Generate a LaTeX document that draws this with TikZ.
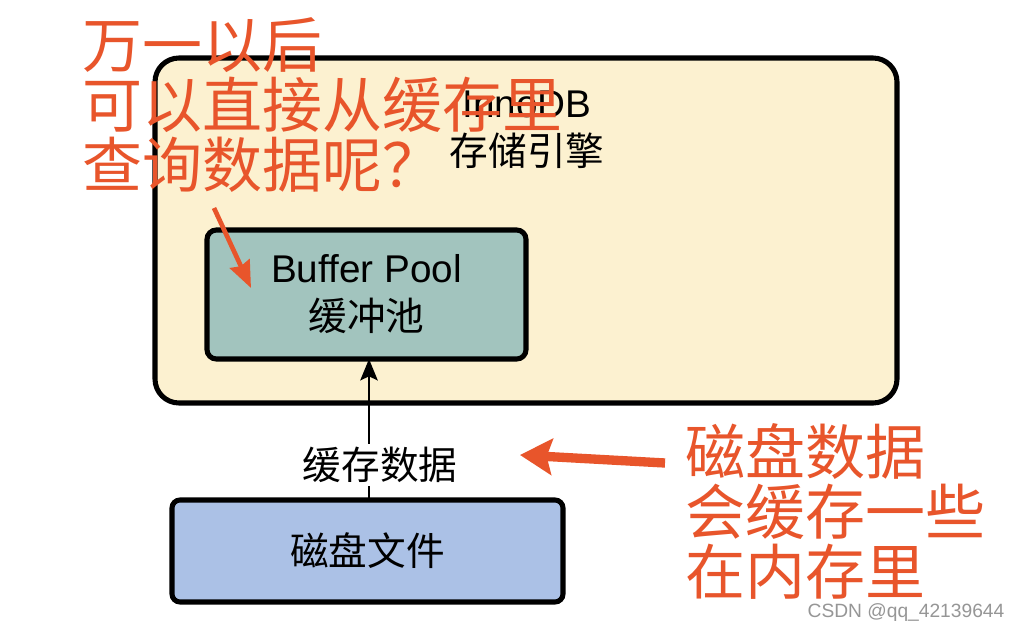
\documentclass[tikz,border=0pt]{standalone}
\usepackage{fontspec}
\setmainfont{Liberation Sans}
\newfontfamily\cjk{Noto Sans CJK SC}
\usetikzlibrary{arrows.meta}
\definecolor{engfill}{RGB}{252,241,208}
\definecolor{poolfill}{RGB}{162,196,190}
\definecolor{diskfill}{RGB}{171,193,230}
\definecolor{anno}{RGB}{232,85,43}
\definecolor{wm}{RGB}{150,150,150}
\tikzset{
  box/.style={draw=black, line width=3.8pt, inner sep=0pt},
  blk/.style={font=\fontsize{29}{36}\selectfont, align=center, inner sep=0pt},
  redtxt/.style={text=anno, font=\cjk\fontsize{45}{45}\selectfont, align=left, inner sep=0pt},
}
\begin{document}
\begin{tikzpicture}[x=0.75pt,y=-0.75pt]
\useasboundingbox[fill=white] (0,0) rectangle (1020,631);
% engine box
\node[box, fill=engfill, rounded corners=18pt, minimum width=556.5pt, minimum height=258.75pt] (engine) at (526,230.5) {};
\node[blk] (englbl) at (527,130) {InnoDB\\{\cjk 存储引擎}};
% buffer pool
\node[box, fill=poolfill, rounded corners=7pt, minimum width=239.25pt, minimum height=96.75pt, blk] (pool) at (366.5,294.5) {Buffer Pool\\{\cjk 缓冲池}};
% disk
\node[box, fill=diskfill, rounded corners=6pt, minimum width=293.25pt, minimum height=76.5pt, blk, font=\cjk\fontsize{29}{36}\selectfont] (disk) at (367.5,551) {磁盘文件};
% arrow disk -> pool
\coordinate (dtop) at (369,500);
\coordinate (pbot) at (369,359);
\draw[line width=2pt, -{Stealth[length=16pt,width=13pt,inset=3pt]}] (dtop) -- (pbot);
\node[blk, font=\cjk\fontsize{29}{36}\selectfont, fill=white, inner ysep=2pt] (cachelbl) at (380,465) {缓存数据};
% red annotations
\node[redtxt] (q) at (322,105) {万一以后\\可以直接从缓存里\\查询数据呢？};
\node[redtxt] (note) at (835,511) {磁盘数据\\会缓存一些\\在内存里};
\coordinate (qs) at (214,208);
\coordinate (qe) at (251,288);
\draw[anno, line width=3.5pt, -{Stealth[length=20pt,width=16pt,inset=2pt]}] (qs) -- (qe);
\coordinate (ns) at (665,463);
\coordinate (ne) at (520,455);
\draw[anno, line width=7pt, -{Stealth[length=24pt,width=27pt,inset=4pt]}] (ns) -- (ne);
% watermark
\node[text=wm, font=\fontsize{14.4}{16}\selectfont, inner sep=0pt] (wmk) at (906,613) {CSDN @qq\_42139644};
\end{tikzpicture}
\end{document}
